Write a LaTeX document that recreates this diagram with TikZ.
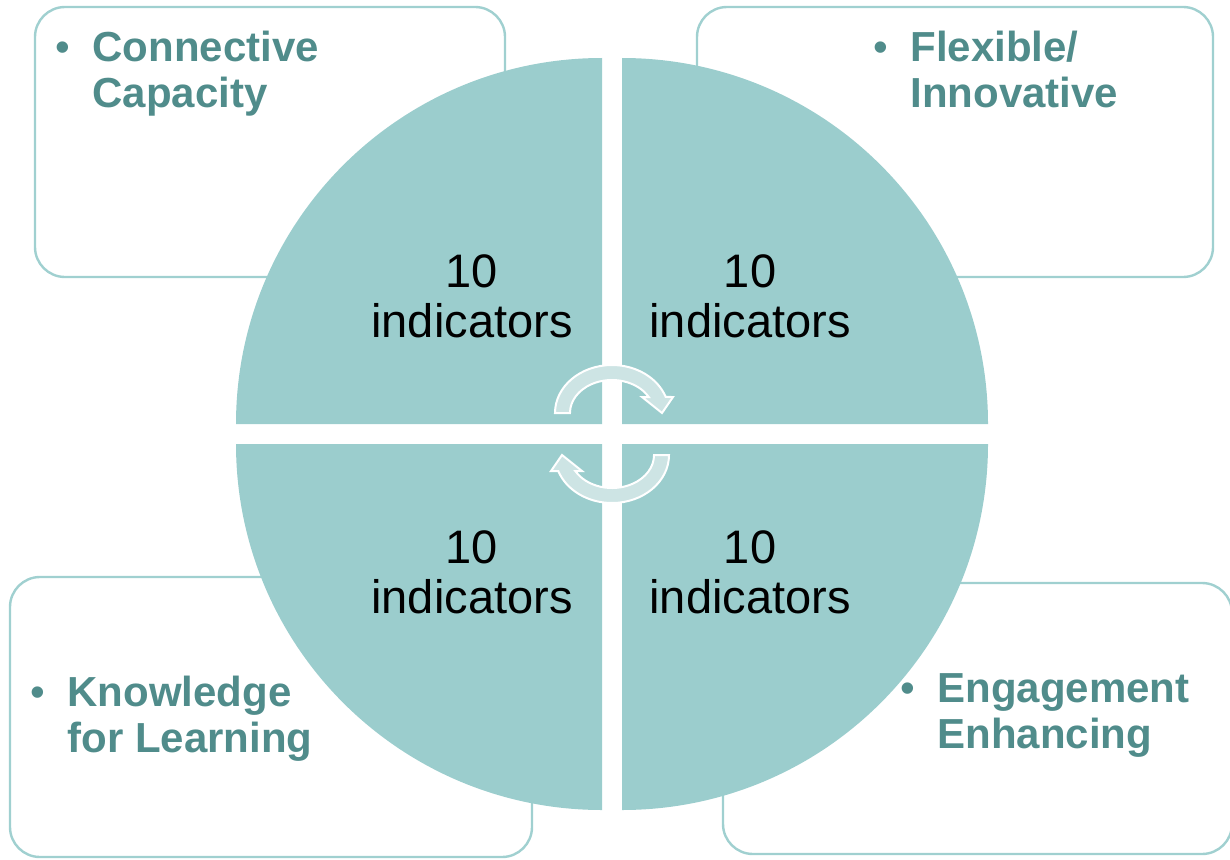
\documentclass[tikz,border=0pt]{standalone}
\usepackage{fontspec}
\setmainfont{Liberation Sans}
\usepackage{tikz}
\usetikzlibrary{positioning,calc}
\definecolor{quadteal}{RGB}{155,205,205}
\definecolor{arrowteal}{RGB}{205,228,228}
\definecolor{labelteal}{RGB}{80,140,139}
\definecolor{boxline}{RGB}{160,208,208}
\newcommand{\dimbullet}{\llap{{\mdseries\textbullet}\hspace{11pt}}}

\begin{document}
\begin{tikzpicture}[x=0.5pt, y=0.5pt,
    box/.style={draw=boxline, line width=1.2pt, rounded corners=15pt},
    quad/.style={fill=quadteal},
    cyc/.style={fill=arrowteal, draw=white, line width=1pt},
    count/.style={align=center, inner sep=0pt, font=\fontsize{23.5}{25}\selectfont},
    dim/.style={align=left, anchor=north west, inner sep=0pt, text=labelteal,
                font=\fontsize{21}{23}\selectfont\bfseries}]
  \useasboundingbox (0,0) rectangle (1230,859);
  % the four boxes behind the circle
  \draw[box] (35,582) rectangle (505,852);
  \draw[box] (697,582) rectangle (1213,852);
  \draw[box] (10,2) rectangle (532,282);
  \draw[box] (723,5) rectangle (1232,276);
  % quarters of the circle
  \fill[quad] (602,435) -- ++(-366,0) arc (180:90:366) -- cycle;
  \fill[quad] (622,435) -- ++(0,366) arc (90:0:366) -- cycle;
  \fill[quad] (602,415) -- ++(0,-366) arc (270:180:366) -- cycle;
  \fill[quad] (622,415) -- ++(366,0) arc (0:-90:366) -- cycle;
  % cycle arrows in the middle
  \foreach \turn/\cy in {0/446, 180/404} {
    \begin{scope}[shift={(612,\cy)}, rotate=\turn]
      \filldraw[cyc] (-57,0) arc[start angle=180, end angle=19.5, x radius=57, y radius=48]
        -- (61,16) -- (50,0) -- (30,16) -- (36.7,16)
        arc[start angle=29, end angle=180, x radius=42, y radius=33] -- cycle;
    \end{scope}
  }
  \node[count] (tl) at (472,563) {10\\indicators};
  \node[count] (tr) at (750,563) {10\\indicators};
  \node[count] (bl) at (472,287) {10\\indicators};
  \node[count] (br) at (750,287) {10\\indicators};
  \node[dim] (connective) at (92,828) {\dimbullet Connective\\Capacity};
  \node[dim] (flexible) at (910,828) {\dimbullet Flexible/\\Innovative};
  \node[dim] (knowledge) at (67,183) {\dimbullet Knowledge\\for Learning};
  \node[dim] (engagement) at (937,186) {\dimbullet Engagement\\Enhancing};
\end{tikzpicture}
\end{document}
